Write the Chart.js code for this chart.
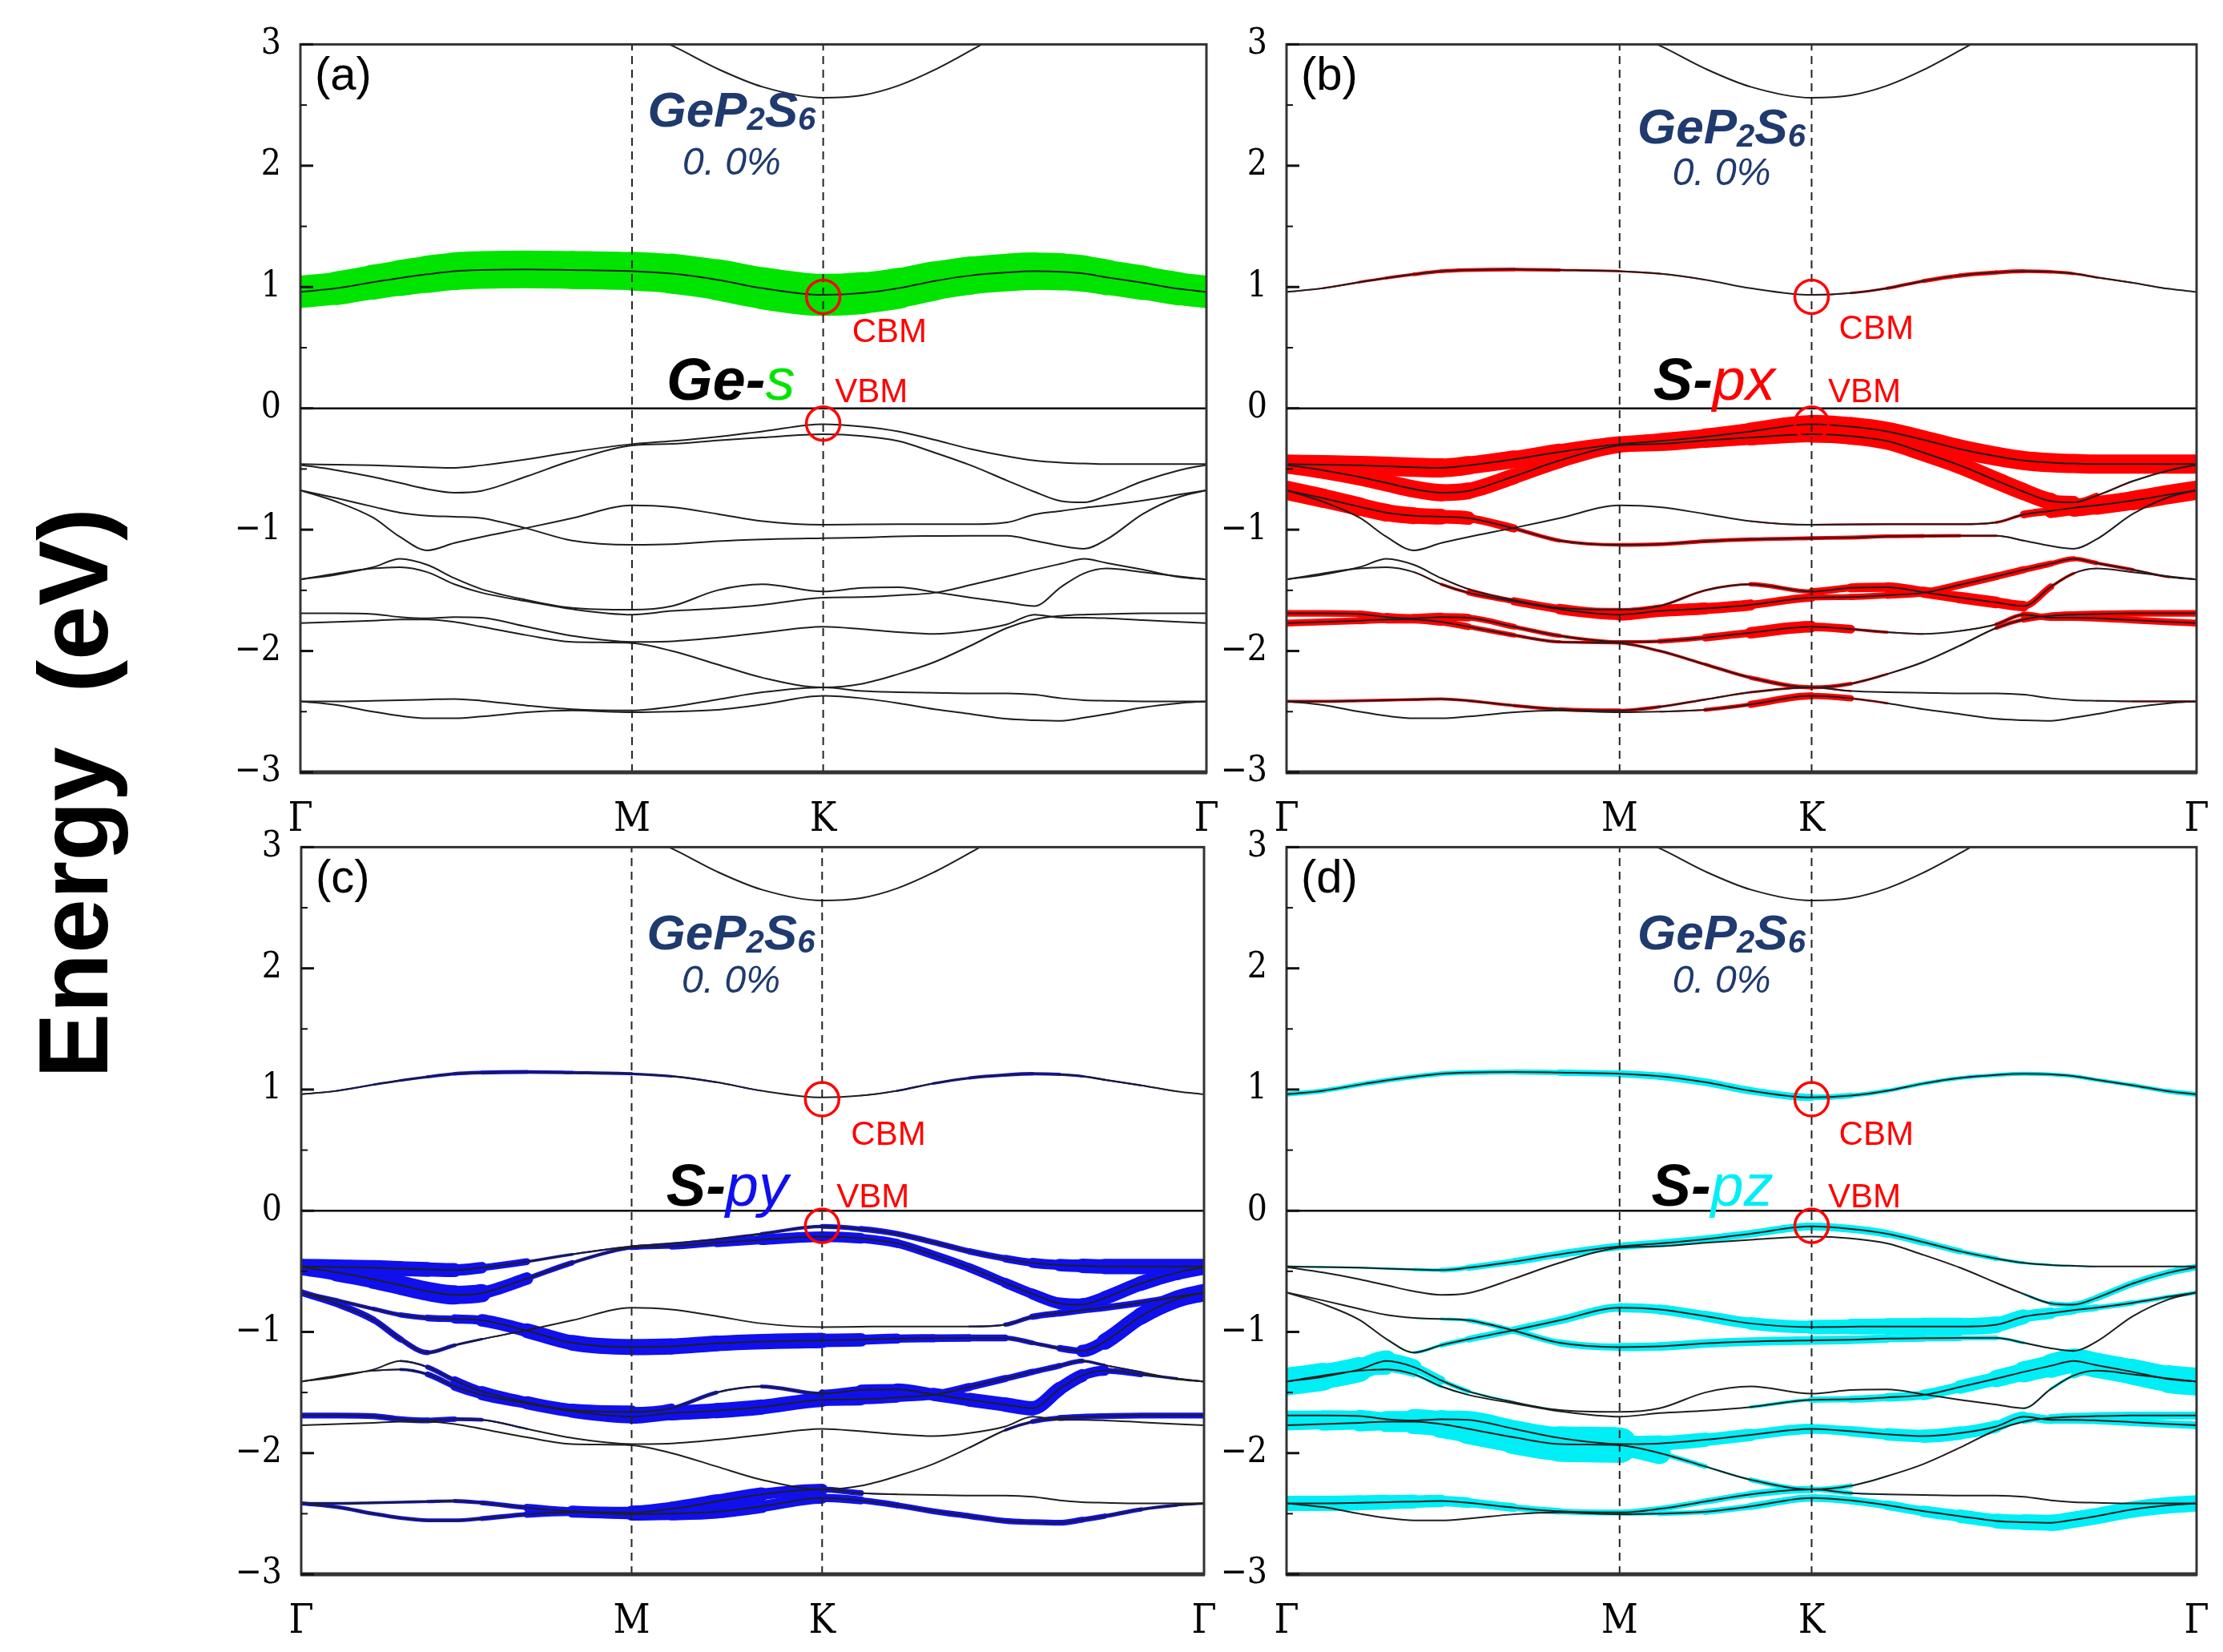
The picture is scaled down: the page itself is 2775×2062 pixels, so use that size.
<!DOCTYPE html>
<html>
<head>
<meta charset="utf-8">
<script src="https://cdn.jsdelivr.net/npm/chart.js@4.4.1/dist/chart.umd.min.js"></script>
<style>
  body { margin: 0; background: #fff; width: 2775px; height: 2062px; position: relative; overflow: hidden; }
  .panel { position: absolute; }
  #ylab {
    position: absolute; left: 92px; top: 990px;
    transform: translate(-50%, -50%) rotate(-90deg);
    font: bold 122px "Liberation Sans", Arial, sans-serif; line-height: 122px;
    white-space: pre; color: #000;
  }
</style>
</head>
<body>
<div id="ylab">Energy  (eV)</div>
<div class="panel" id="pa"><canvas id="ca"></canvas></div>
<div class="panel" id="pb"><canvas id="cb"></canvas></div>
<div class="panel" id="pc"><canvas id="cc"></canvas></div>
<div class="panel" id="pd"><canvas id="cd"></canvas></div>
<script>
// k path (fraction of Γ-M-K-Γ length) and high-symmetry points
const kpts = [0, 0.04, 0.08, 0.11, 0.14, 0.17, 0.20, 0.25, 0.30, 0.366, 0.41, 0.46, 0.51,
              0.577, 0.62, 0.66, 0.70, 0.74, 0.78, 0.81, 0.84, 0.865, 0.89, 0.93, 0.97, 1.0];
const symK = [0, 0.366, 0.577, 1];
const symLabels = ["Γ", "M", "K", "Γ"];
const yTickVals = [-3, -2, -1, 0, 1, 2, 3];
const yTickLabels = ["−3", "−2", "−1", "0", "1", "2", "3"];

// band energies (eV)
const bandCB2 = [null, null, null, null, null, null, null, null, null, 3.12, 2.99, 2.80, 2.65,
                 2.56, 2.58, 2.66, 2.79, 2.95, 3.12, null, null, null, null, null, null, null];
const bandCB1 = [0.96, 0.99, 1.04, 1.075, 1.105, 1.13, 1.14, 1.145, 1.14, 1.13, 1.11, 1.06, 0.99,
                 0.935, 0.95, 0.99, 1.05, 1.095, 1.12, 1.13, 1.125, 1.11, 1.08, 1.035, 0.985, 0.96];
const bandV1 = [-0.46, -0.465, -0.47, -0.478, -0.485, -0.49, -0.47, -0.42, -0.36, -0.295, -0.27, -0.235, -0.19,
                -0.13, -0.15, -0.19, -0.26, -0.335, -0.395, -0.43, -0.448, -0.455, -0.46, -0.46, -0.46, -0.46];
const bandV2 = [-0.465, -0.51, -0.565, -0.615, -0.665, -0.695, -0.68, -0.56, -0.43, -0.305, -0.293, -0.265, -0.24,
                -0.214, -0.228, -0.27, -0.365, -0.47, -0.595, -0.687, -0.765, -0.775, -0.72, -0.60, -0.51, -0.465];
const bandV3 = [-0.675, -0.74, -0.81, -0.86, -0.885, -0.893, -0.905, -0.99, -1.09, -1.125, -1.12, -1.095, -1.08,
                -1.07, -1.065, -1.055, -1.052, -1.05, -1.05, -1.09, -1.135, -1.157, -1.08, -0.87, -0.73, -0.675];
const bandV4 = [-0.675, -0.77, -0.90, -1.06, -1.17, -1.11, -1.06, -0.985, -0.905, -0.80, -0.815, -0.87, -0.93,
                -0.96, -0.957, -0.955, -0.955, -0.955, -0.94, -0.875, -0.845, -0.82, -0.80, -0.76, -0.71, -0.675];
const bandV5 = [-1.41, -1.37, -1.31, -1.24, -1.29, -1.40, -1.49, -1.58, -1.645, -1.66, -1.63, -1.50, -1.45,
                -1.51, -1.48, -1.475, -1.515, -1.56, -1.60, -1.63, -1.47, -1.36, -1.32, -1.35, -1.385, -1.41];
const bandV6 = [-1.41, -1.36, -1.32, -1.31, -1.35, -1.45, -1.52, -1.59, -1.655, -1.70, -1.67, -1.65, -1.62,
                -1.56, -1.555, -1.54, -1.52, -1.455, -1.385, -1.33, -1.28, -1.24, -1.275, -1.33, -1.39, -1.41];
const bandV7 = [-1.69, -1.69, -1.695, -1.72, -1.73, -1.72, -1.725, -1.80, -1.875, -1.925, -1.92, -1.89, -1.85,
                -1.80, -1.82, -1.845, -1.86, -1.835, -1.78, -1.70, -1.725, -1.725, -1.73, -1.745, -1.76, -1.77];
const bandV8 = [-1.77, -1.76, -1.75, -1.74, -1.74, -1.76, -1.80, -1.87, -1.925, -1.935, -2.00, -2.11, -2.22,
                -2.30, -2.27, -2.19, -2.09, -1.955, -1.81, -1.74, -1.71, -1.70, -1.695, -1.69, -1.69, -1.69];
const bandV9 = [-2.415, -2.415, -2.41, -2.405, -2.40, -2.395, -2.41, -2.45, -2.48, -2.49, -2.46, -2.40, -2.34,
                -2.30, -2.33, -2.34, -2.345, -2.35, -2.35, -2.36, -2.39, -2.405, -2.41, -2.415, -2.415, -2.415];
const bandV10 = [-2.415, -2.445, -2.50, -2.535, -2.555, -2.555, -2.54, -2.505, -2.49, -2.505, -2.50, -2.485, -2.44,
                 -2.37, -2.39, -2.43, -2.48, -2.52, -2.56, -2.57, -2.575, -2.55, -2.52, -2.465, -2.43, -2.415];
const bands = [bandCB2, bandCB1, bandV1, bandV2, bandV3, bandV4, bandV5, bandV6, bandV7, bandV8, bandV9, bandV10];

// projected weights, one row per band in the order of `bands` (null = none)
const wGeS = [null,
  [2.0, 2.05, 2.15, 2.2, 2.3, 2.35, 2.35, 2.35, 2.35, 2.4, 2.45, 2.55, 2.6, 2.65, 2.6, 2.5, 2.4, 2.35, 2.35, 2.35, 2.3, 2.25, 2.2, 2.1, 2.05, 2.0],
  null, null, null, null, null, null, null, null, null, null];
const wSpx = [null,
  [0.05, 0.08, 0.12, 0.15, 0.18, 0.2, 0.2, 0.2, 0.15, 0.1, 0.08, 0.05, 0.05, 0.05, 0.1, 0.15, 0.2, 0.22, 0.22, 0.2, 0.18, 0.15, 0.1, 0.08, 0.05, 0.05],
  [1, 1, 1, 1, 1, 1, 0.95, 0.9, 0.85, 0.8, 0.8, 0.85, 0.9, 0.95, 1, 1, 1, 1, 1, 1, 1, 1, 1, 1, 1, 1],
  [0.9, 0.9, 0.9, 0.9, 0.9, 0.9, 0.85, 0.8, 0.8, 0.75, 0.75, 0.75, 0.8, 0.85, 0.9, 0.9, 0.9, 0.9, 0.9, 0.9, 0.85, 0.5, 0.1, 0.08, 0.08, 0.1],
  [1, 1, 0.95, 0.9, 0.85, 0.8, 0.6, 0.25, 0.15, 0.2, 0.2, 0.2, 0.2, 0.2, 0.2, 0.2, 0.2, 0.15, 0.1, 0.05, 0.05, 0.05, 0.05, 0.05, 0.05, 0.1],
  [0.3, 0.1, 0.05, 0.05, 0.05, 0.05, 0.05, 0.05, 0.05, 0.05, 0.05, 0.05, 0.05, 0.1, 0.1, 0.1, 0.1, 0.1, 0.1, 0.2, 0.6, 0.9, 0.95, 1, 1, 1],
  [0.05, 0.05, 0.05, 0.05, 0.05, 0.05, 0.1, 0.15, 0.2, 0.2, 0.15, 0.1, 0.15, 0.3, 0.45, 0.5, 0.55, 0.6, 0.6, 0.5, 0.2, 0.1, 0.05, 0.05, 0.05, 0.05],
  [0.05, 0.05, 0.05, 0.05, 0.05, 0.1, 0.2, 0.35, 0.5, 0.6, 0.65, 0.6, 0.55, 0.3, 0.3, 0.35, 0.4, 0.4, 0.4, 0.35, 0.3, 0.25, 0.2, 0.15, 0.1, 0.05],
  [0.35, 0.35, 0.35, 0.4, 0.45, 0.45, 0.35, 0.25, 0.2, 0.15, 0.2, 0.3, 0.5, 0.7, 0.2, 0.1, 0.05, 0.05, 0.1, 0.3, 0.35, 0.35, 0.35, 0.35, 0.35, 0.35],
  [0.35, 0.35, 0.35, 0.4, 0.45, 0.4, 0.3, 0.2, 0.15, 0.15, 0.15, 0.15, 0.2, 0.25, 0.15, 0.1, 0.05, 0.05, 0.1, 0.3, 0.35, 0.35, 0.35, 0.35, 0.35, 0.35],
  [0.15, 0.15, 0.15, 0.15, 0.15, 0.15, 0.15, 0.15, 0.2, 0.2, 0.15, 0.1, 0.1, 0.15, 0.05, 0.05, 0.05, 0.05, 0.05, 0.05, 0.05, 0.05, 0.05, 0.1, 0.1, 0.1],
  [0.05, 0.05, 0.05, 0.05, 0.05, 0.05, 0.05, 0.05, 0.05, 0.05, 0.05, 0.1, 0.3, 0.45, 0.2, 0.05, 0.05, 0.05, 0.05, 0.05, 0.05, 0.05, 0.05, 0.05, 0.05, 0.05]];
const wSpy = [null,
  [0.05, 0.08, 0.1, 0.12, 0.15, 0.18, 0.2, 0.2, 0.18, 0.15, 0.12, 0.08, 0.05, 0.05, 0.05, 0.08, 0.12, 0.15, 0.18, 0.18, 0.15, 0.12, 0.1, 0.08, 0.05, 0.05],
  [0.8, 0.8, 0.8, 0.8, 0.75, 0.7, 0.5, 0.2, 0.1, 0.1, 0.1, 0.1, 0.15, 0.2, 0.3, 0.3, 0.3, 0.3, 0.35, 0.45, 0.6, 0.7, 0.8, 0.8, 0.8, 0.8],
  [0.8, 0.9, 1, 1, 1, 1, 0.9, 0.4, 0.15, 0.2, 0.3, 0.4, 0.5, 0.6, 0.5, 0.45, 0.45, 0.45, 0.5, 0.55, 0.6, 0.65, 0.7, 0.75, 0.8, 0.8],
  [0.25, 0.2, 0.2, 0.25, 0.3, 0.4, 0.55, 0.75, 0.8, 0.85, 0.85, 0.8, 0.8, 0.8, 0.6, 0.45, 0.4, 0.4, 0.3, 0.2, 0.2, 0.5, 0.8, 0.9, 0.9, 0.9],
  [0.35, 0.35, 0.35, 0.3, 0.25, 0.15, 0.1, 0.05, 0.05, 0.05, 0.05, 0.05, 0.05, 0.05, 0.05, 0.05, 0.05, 0.05, 0.15, 0.3, 0.35, 0.35, 0.35, 0.35, 0.35, 0.35],
  [0.05, 0.05, 0.05, 0.05, 0.15, 0.35, 0.5, 0.6, 0.65, 0.7, 0.3, 0.1, 0.1, 0.3, 0.55, 0.6, 0.65, 0.7, 0.75, 0.75, 0.7, 0.65, 0.4, 0.2, 0.1, 0.05],
  [0.05, 0.05, 0.05, 0.1, 0.2, 0.4, 0.5, 0.6, 0.65, 0.7, 0.75, 0.8, 0.8, 0.7, 0.6, 0.5, 0.45, 0.4, 0.35, 0.3, 0.3, 0.2, 0.1, 0.05, 0.05, 0.05],
  [0.3, 0.3, 0.3, 0.3, 0.3, 0.25, 0.15, 0.05, 0.05, 0.05, 0.05, 0.05, 0.05, 0.05, 0.05, 0.05, 0.05, 0.05, 0.05, 0.05, 0.05, 0.05, 0.05, 0.05, 0.05, 0.05],
  [0.05, 0.05, 0.05, 0.05, 0.05, 0.05, 0.05, 0.05, 0.05, 0.05, 0.05, 0.05, 0.05, 0.05, 0.05, 0.05, 0.05, 0.05, 0.1, 0.2, 0.3, 0.3, 0.3, 0.3, 0.3, 0.3],
  [0.15, 0.15, 0.15, 0.15, 0.15, 0.2, 0.2, 0.3, 0.5, 0.7, 0.75, 0.75, 0.7, 0.5, 0.1, 0.05, 0.05, 0.05, 0.05, 0.05, 0.05, 0.05, 0.05, 0.05, 0.05, 0.05],
  [0.2, 0.2, 0.2, 0.2, 0.2, 0.2, 0.2, 0.3, 0.45, 0.6, 0.7, 0.7, 0.7, 0.5, 0.35, 0.3, 0.3, 0.3, 0.3, 0.3, 0.3, 0.3, 0.25, 0.2, 0.15, 0.1]];
const wSpz = [null,
  [0.25, 0.25, 0.25, 0.25, 0.25, 0.25, 0.25, 0.25, 0.3, 0.35, 0.4, 0.4, 0.4, 0.35, 0.25, 0.2, 0.2, 0.2, 0.2, 0.2, 0.2, 0.2, 0.2, 0.2, 0.25, 0.25],
  [0.1, 0.1, 0.1, 0.1, 0.15, 0.2, 0.3, 0.35, 0.4, 0.4, 0.4, 0.4, 0.4, 0.4, 0.4, 0.4, 0.35, 0.3, 0.2, 0.15, 0.1, 0.1, 0.05, 0.05, 0.05, 0.05],
  [0.05, 0.05, 0.05, 0.05, 0.05, 0.05, 0.05, 0.05, 0.05, 0.05, 0.05, 0.05, 0.05, 0.05, 0.05, 0.05, 0.05, 0.05, 0.05, 0.05, 0.2, 0.3, 0.35, 0.35, 0.35, 0.35],
  [0.05, 0.05, 0.05, 0.05, 0.05, 0.1, 0.2, 0.3, 0.35, 0.4, 0.45, 0.45, 0.45, 0.45, 0.45, 0.4, 0.35, 0.3, 0.2, 0.1, 0.05, 0.05, 0.05, 0.05, 0.05, 0.05],
  [0.05, 0.05, 0.05, 0.05, 0.1, 0.2, 0.3, 0.4, 0.4, 0.45, 0.5, 0.55, 0.6, 0.7, 0.8, 0.85, 0.9, 0.9, 0.85, 0.7, 0.5, 0.4, 0.3, 0.25, 0.2, 0.2],
  [1.5, 1.4, 1.2, 1.0, 0.6, 0.3, 0.15, 0.1, 0.05, 0.05, 0.05, 0.05, 0.05, 0.05, 0.05, 0.05, 0.05, 0.05, 0.05, 0.05, 0.1, 0.2, 0.4, 0.7, 1.0, 1.3],
  [1.3, 1.0, 0.7, 0.4, 0.2, 0.1, 0.05, 0.05, 0.05, 0.05, 0.05, 0.05, 0.05, 0.3, 0.35, 0.4, 0.5, 0.6, 0.8, 1.0, 1.2, 1.3, 1.3, 1.3, 1.4, 1.5],
  [0.5, 0.5, 0.6, 0.7, 0.8, 0.9, 0.9, 0.9, 0.9, 0.9, 0.8, 0.7, 0.6, 0.5, 0.5, 0.6, 0.7, 0.7, 0.6, 0.5, 0.4, 0.4, 0.4, 0.4, 0.4, 0.4],
  [0.5, 0.6, 0.8, 1.0, 1.2, 1.4, 1.5, 1.7, 1.8, 1.9, 0.4, 0.1, 0.1, 0.4, 0.1, 0.05, 0.05, 0.05, 0.05, 0.1, 0.4, 0.4, 0.4, 0.4, 0.4, 0.4],
  [0.8, 0.8, 0.8, 0.75, 0.7, 0.6, 0.5, 0.4, 0.3, 0.3, 0.3, 0.3, 0.35, 0.4, 0.1, 0.05, 0.05, 0.05, 0.05, 0.05, 0.05, 0.05, 0.05, 0.05, 0.05, 0.05],
  [0.05, 0.05, 0.05, 0.05, 0.05, 0.05, 0.05, 0.05, 0.05, 0.1, 0.2, 0.3, 0.35, 0.4, 0.4, 0.45, 0.55, 0.65, 0.75, 0.8, 0.85, 0.85, 0.85, 0.85, 0.85, 0.85]];

const cbmPoint = [0.577, 0.92];
const vbmPoint = [0.577, -0.125];

const Y_AXIS_W = 90, X_AXIS_H = 90, PAD = 40;

const panels = [
  { canvas: "ca", div: "pa", box: [375, 53, 1506, 964], tag: "(a)", orb: ["Ge-", "s"], color: "#00e400", w: wGeS, scale: 20,
    formula: [0.476, 2.47], strain: [0.476, 2.04], orbPos: [0.475, 0.25], cbm: [0.609, 0.645], vbm: [0.59, 0.15] },
  { canvas: "cb", div: "pb", box: [1606, 53, 2742, 964], tag: "(b)", orb: ["S-", "px"], color: "#ff0000", w: wSpx, scale: 24,
    formula: [0.478, 2.33], strain: [0.478, 1.95], orbPos: [0.47, 0.25], cbm: [0.607, 0.67], vbm: [0.595, 0.15] },
  { canvas: "cc", div: "pc", box: [376, 1055, 1503, 1965], tag: "(c)", orb: ["S-", "py"], color: "#1010ee", w: wSpy, scale: 24,
    formula: [0.476, 2.30], strain: [0.476, 1.91], orbPos: [0.472, 0.22], cbm: [0.609, 0.64], vbm: [0.593, 0.125] },
  { canvas: "cd", div: "pd", box: [1606, 1055, 2742, 1965], tag: "(d)", orb: ["S-", "pz"], color: "#00eef5", w: wSpz, scale: 24,
    formula: [0.478, 2.30], strain: [0.478, 1.91], orbPos: [0.468, 0.22], cbm: [0.607, 0.64], vbm: [0.595, 0.125] }
];

function pts(arr) { return kpts.map((k, i) => ({ x: k, y: arr[i] })); }

const framePlugin = {
  id: "frame",
  afterDatasetsDraw(chart) {
    const { ctx, chartArea: a, scales: { y } } = chart;
    ctx.save();
    ctx.strokeStyle = "#333";
    ctx.lineWidth = 3;
    ctx.strokeRect(a.left, a.top, a.right - a.left, a.bottom - a.top);
    ctx.lineWidth = 5;
    ctx.beginPath(); ctx.moveTo(a.left - 1, a.bottom); ctx.lineTo(a.right + 1, a.bottom); ctx.stroke();
    ctx.strokeStyle = "#111";
    ctx.lineWidth = 3;
    yTickVals.forEach(v => {
      const py = y.getPixelForValue(v);
      ctx.beginPath(); ctx.moveTo(a.left, py); ctx.lineTo(a.left + 16, py); ctx.stroke();
      if (v < 3) {
        const pm = y.getPixelForValue(v + 0.5);
        ctx.lineWidth = 2;
        ctx.beginPath(); ctx.moveTo(a.left, pm); ctx.lineTo(a.left + 8, pm); ctx.stroke();
        ctx.lineWidth = 3;
      }
    });
    ctx.restore();
  }
};

const textPlugin = {
  id: "texts",
  afterDraw(chart) {
    const p = chart.options.plugins.texts.panel;
    const { ctx, chartArea: a, scales: { x, y } } = chart;
    ctx.save();
    ctx.textBaseline = "alphabetic";
    // panel tag
    ctx.fillStyle = "#000";
    ctx.font = '58px "Liberation Sans", Arial, sans-serif';
    ctx.textAlign = "left";
    ctx.fillText(p.tag, a.left + 18, y.getPixelForValue(2.76) + 20);
    // formula GeP2S6
    const parts = [["GeP", 0], ["2", 1], ["S", 0], ["6", 1]];
    const bigF = 'italic bold 62px "Liberation Sans Narrow", "Liberation Sans", sans-serif';
    const smallF = 'italic bold 40px "Liberation Sans Narrow", "Liberation Sans", sans-serif';
    let tw = 0;
    parts.forEach(([s, sub]) => { ctx.font = sub ? smallF : bigF; tw += ctx.measureText(s).width; });
    let cx = x.getPixelForValue(p.formula[0]) - tw / 2;
    const by = y.getPixelForValue(p.formula[1]) + 22;
    ctx.fillStyle = "#1f3a6e";
    parts.forEach(([s, sub]) => {
      ctx.font = sub ? smallF : bigF;
      ctx.fillText(s, cx, by + (sub ? 4 : 0));
      cx += ctx.measureText(s).width;
    });
    ctx.font = 'italic 48px "Liberation Sans Narrow", "Liberation Sans", sans-serif';
    ctx.textAlign = "center";
    ctx.fillText("0. 0%", x.getPixelForValue(p.strain[0]), y.getPixelForValue(p.strain[1]) + 17);
    // orbital label
    ctx.textAlign = "left";
    const f1 = 'italic bold 74px "Liberation Sans", sans-serif';
    const f2 = 'italic 74px "Liberation Sans", sans-serif';
    ctx.font = f1; const w1 = ctx.measureText(p.orb[0]).width;
    ctx.font = f2; const w2 = ctx.measureText(p.orb[1]).width;
    const ox = x.getPixelForValue(p.orbPos[0]) - (w1 + w2) / 2;
    const oy = y.getPixelForValue(p.orbPos[1]) + 27;
    ctx.font = f1; ctx.fillStyle = "#000"; ctx.fillText(p.orb[0], ox, oy);
    ctx.font = f2; ctx.fillStyle = p.color; ctx.fillText(p.orb[1], ox + w1, oy);
    // CBM / VBM
    ctx.fillStyle = "#ff0000";
    ctx.font = '42px "Liberation Sans", Arial, sans-serif';
    ctx.fillText("CBM", x.getPixelForValue(p.cbm[0]), y.getPixelForValue(p.cbm[1]) + 15);
    ctx.fillText("VBM", x.getPixelForValue(p.vbm[0]), y.getPixelForValue(p.vbm[1]) + 15);
    ctx.restore();
  }
};

function makeChart(p) {
  const [L, T, R, B] = p.box;
  const div = document.getElementById(p.div);
  const cv = document.getElementById(p.canvas);
  const W = (R - L) + Y_AXIS_W + PAD, H = (B - T) + PAD + X_AXIS_H;
  div.style.left = (L - Y_AXIS_W) + "px";
  div.style.top = (T - PAD) + "px";
  cv.width = W; cv.height = H;
  cv.style.width = W + "px"; cv.style.height = H + "px";

  const datasets = [];
  bands.forEach((b, bi) => {
    const wt = p.w[bi];
    if (wt) {
      const segW = c => (wt[c.p0DataIndex] + wt[c.p1DataIndex]) / 2 * p.scale;
      datasets.push({
        data: pts(b), order: 3, clip: 0,
        borderColor: p.color, borderWidth: 1, pointRadius: 0,
        cubicInterpolationMode: "monotone",
        borderCapStyle: "round", borderJoinStyle: "round",
        segment: {
          borderWidth: c => Math.max(1, segW(c)),
          borderColor: c => (segW(c) < 1.5 ? "rgba(0,0,0,0)" : p.color)
        }
      });
    }
    datasets.push({
      data: pts(b), order: 2,
      borderColor: "#1e1e1e", borderWidth: 2, pointRadius: 0,
      cubicInterpolationMode: "monotone"
    });
  });
  // Fermi level and high-symmetry dashed lines
  datasets.push({ data: [{ x: 0, y: 0 }, { x: 1, y: 0 }], order: 1, borderColor: "#000", borderWidth: 2.5, pointRadius: 0 });
  [symK[1], symK[2]].forEach(k => {
    datasets.push({ data: [{ x: k, y: -3 }, { x: k, y: 3 }], order: 1, borderColor: "#222",
      borderWidth: 2, borderDash: [10, 7], pointRadius: 0 });
  });
  datasets.push({
    type: "scatter", order: 0, clip: false, showLine: false,
    data: [{ x: cbmPoint[0], y: cbmPoint[1] }, { x: vbmPoint[0], y: vbmPoint[1] }],
    pointRadius: 21, pointBorderWidth: 3.5, pointBorderColor: "#ff0000",
    pointBackgroundColor: "rgba(0,0,0,0)"
  });

  new Chart(cv, {
    type: "line",
    data: { datasets },
    options: {
      responsive: false, animation: false, devicePixelRatio: 1, events: [],
      layout: { padding: { left: 0, top: PAD, right: PAD, bottom: 0 } },
      plugins: { legend: { display: false }, tooltip: { enabled: false }, texts: { panel: p } },
      scales: {
        x: {
          type: "linear", min: 0, max: 1,
          grid: { display: false }, border: { display: false },
          afterBuildTicks: ax => { ax.ticks = symK.map(v => ({ value: v })); },
          afterFit: s => { s.height = X_AXIS_H; },
          ticks: {
            autoSkip: false, maxRotation: 0, padding: 22, color: "#000",
            font: { family: '"DejaVu Serif Condensed", "Liberation Serif", serif', size: 50 },
            callback: (v, i) => symLabels[i]
          }
        },
        y: {
          type: "linear", min: -3, max: 3,
          grid: { display: false }, border: { display: false },
          afterBuildTicks: ax => { ax.ticks = yTickVals.map(v => ({ value: v })); },
          afterFit: s => { s.width = Y_AXIS_W; },
          ticks: {
            padding: 16, color: "#000",
            font: { family: '"DejaVu Serif Condensed", "Liberation Serif", serif', size: 44 },
            callback: (v, i) => yTickLabels[i]
          }
        }
      }
    },
    plugins: [framePlugin, textPlugin]
  });
}

panels.forEach(makeChart);
</script>
</body>
</html>
